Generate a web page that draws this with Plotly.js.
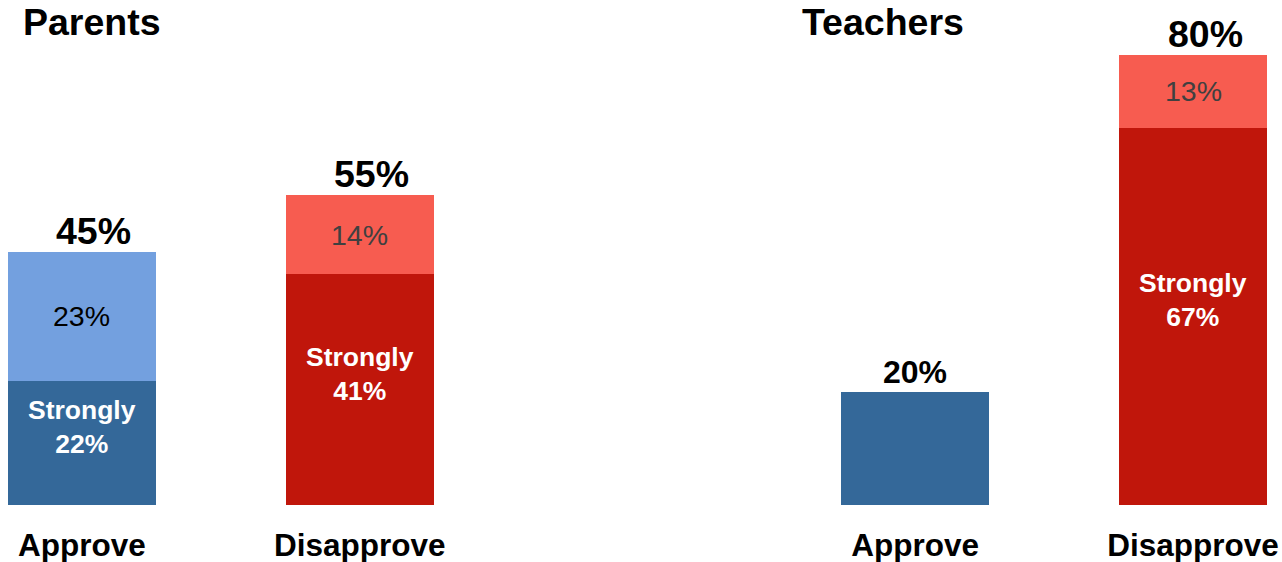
<!DOCTYPE html>
<html>
<head>
<meta charset="utf-8">
<script src="https://cdn.plot.ly/plotly-3.0.1.min.js"></script>
<style>html,body{margin:0;padding:0;background:#fff;}#chart{width:1282px;height:562px;}</style>
</head>
<body>
<div id="chart"></div>
<script>
// Data
const groups = ["Parents", "Parents", "Teachers", "Teachers"];
const categories = ["Approve", "Disapprove", "Approve", "Disapprove"];
const xPos = [0, 1, 3, 4];
const strongly = [22, 41, 20, 67];
const somewhat = [23, 14, 0, 13];
const totals = [45, 55, 20, 80];
const groupTitles = ["Parents", "Teachers"];

const darkColors = ["#346899", "#C0160B", "#346899", "#C0160B"];
const lightColors = ["#73A0DF", "#F75C50", "#73A0DF", "#F75C50"];

const FONT = "Liberation Sans, Arial, sans-serif";

const traces = [
  {type: "bar", x: xPos, y: strongly, width: 0.533, marker: {color: darkColors, line: {width: 0}}, hoverinfo: "none"},
  {type: "bar", x: xPos, y: somewhat, width: 0.533, marker: {color: lightColors, line: {width: 0}}, hoverinfo: "none"}
];

const annotations = [];
for (let i = 0; i < xPos.length; i++) {
  if (somewhat[i] > 0) {
    annotations.push({x: xPos[i], y: strongly[i] / 2, xref: "x", yref: "y", yshift: 16,
      text: "<b>Strongly<br>" + strongly[i] + "%</b>", showarrow: false,
      font: {family: FONT, size: 26.5, color: "#ffffff"}, align: "center"});
    annotations.push({x: xPos[i], y: strongly[i] + somewhat[i] / 2, xref: "x", yref: "y",
      text: somewhat[i] + "%", showarrow: false,
      font: {family: FONT, size: 28.5, color: i === 0 ? "#000000" : "#404040"}});
    annotations.push({x: xPos[i], y: totals[i], xref: "x", yref: "y", yanchor: "bottom", xshift: 12, yshift: -2,
      text: "<b>" + totals[i] + "%</b>", showarrow: false,
      font: {family: FONT, size: 37.5, color: "#000000"}});
  } else {
    annotations.push({x: xPos[i], y: totals[i], xref: "x", yref: "y", yanchor: "bottom", yshift: 0,
      text: "<b>" + totals[i] + "%</b>", showarrow: false,
      font: {family: FONT, size: 32, color: "#000000"}});
  }
}

const titleAnn = [
  {x: 92 / 1282, y: 1, xref: "paper", yref: "paper", xanchor: "center", yanchor: "middle", yshift: -22,
   text: "<b>" + groupTitles[0] + "</b>", showarrow: false, font: {family: FONT, size: 37.5, color: "#000"}},
  {x: 883 / 1282, y: 1, xref: "paper", yref: "paper", xanchor: "center", yanchor: "middle", yshift: -22,
   text: "<b>" + groupTitles[1] + "</b>", showarrow: false, font: {family: FONT, size: 37.5, color: "#000"}}
];

const layout = {
  width: 1282, height: 562,
  margin: {l: 0, r: 0, t: 0, b: 57, pad: 0},
  paper_bgcolor: "#ffffff", plot_bgcolor: "#ffffff",
  showlegend: false, barmode: "stack",
  xaxis: {range: [-0.2952, 4.3204], tickvals: xPos, ticktext: categories.map(c => "<b>" + c + "</b>"),
    showgrid: false, zeroline: false, showline: false, ticks: "", fixedrange: true,
    tickfont: {family: FONT, size: 31.5, color: "#000"}, ticklabelstandoff: 18},
  yaxis: {range: [0, 89.7], visible: false, showgrid: false, zeroline: false, fixedrange: true},
  annotations: annotations.concat(titleAnn)
};

Plotly.newPlot("chart", traces, layout, {displayModeBar: false, staticPlot: true});
</script>
</body>
</html>
